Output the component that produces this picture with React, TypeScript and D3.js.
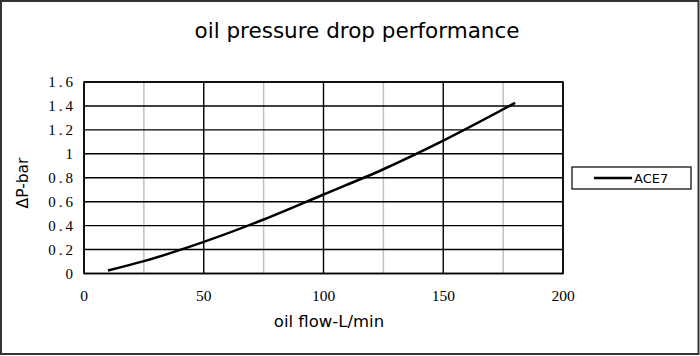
import React from "react";
import * as d3 from "d3";

const flow = [10, 25, 50, 75, 100, 125, 150, 180];
const dropBar = [0.025, 0.103, 0.264, 0.451, 0.66, 0.871, 1.11, 1.425];
const xMajorTicks = [0, 50, 100, 150, 200];
const xMinorTicks = [25, 75, 125, 175];
const yTicks = [0, 0.2, 0.4, 0.6, 0.8, 1, 1.2, 1.4, 1.6];
const seriesName = "ACE7";

const W = 700, H = 356;
const L = 84, R = 563, T = 82, B = 273.5;

export default function App() {
  const x = d3.scaleLinear().domain([0, 200]).range([L, R]);
  const y = d3.scaleLinear().domain([0, 1.6]).range([B, T]);
  const pts = flow.map((f, i) => [f, dropBar[i]] as [number, number]);
  const line = d3.line<[number, number]>().x(d => x(d[0])).y(d => y(d[1])).curve(d3.curveMonotoneX);
  const serif = "'Liberation Serif', 'DejaVu Serif', serif";
  const sans = "'DejaVu Sans', Verdana, sans-serif";
  return (
    <svg width={W} height={H} style={{ position: "absolute", left: 0, top: 0, background: "#fff" }}>
      <rect x={0} y={0} width={W} height={H} fill="#fff" />
      <rect x={1} y={1} width={W - 2.5} height={H - 3} fill="none" stroke="#333" strokeWidth={2} />
      <text x={357} y={38} textAnchor="middle" fontFamily={sans} fontSize={21.5} fill="#000">oil pressure drop performance</text>
      {xMinorTicks.map(t => (
        <line key={"m" + t} x1={x(t)} x2={x(t)} y1={T} y2={B} stroke="#c0c0c0" strokeWidth={1.5} />
      ))}
      {yTicks.map(t => (
        <line key={"h" + t} x1={L} x2={R} y1={y(t)} y2={y(t)} stroke="#000" strokeWidth={1.4} />
      ))}
      {xMajorTicks.map(t => (
        <line key={"v" + t} x1={x(t)} x2={x(t)} y1={T} y2={B} stroke="#000" strokeWidth={1.4} />
      ))}
      <rect x={L} y={T} width={R - L} height={B - T} fill="none" stroke="#000" strokeWidth={1.5} />
      {yTicks.map(t => (
        <text key={"yl" + t} x={76} y={y(t) + 5} textAnchor="end" fontFamily={serif} fontSize={15} letterSpacing={3} fill="#000">{String(t)}</text>
      ))}
      {xMajorTicks.map(t => (
        <text key={"xl" + t} x={x(t)} y={300.5} textAnchor="middle" fontFamily={serif} fontSize={15.5} fill="#000">{String(t)}</text>
      ))}
      <path d={line(pts) || ""} fill="none" stroke="#000" strokeWidth={2.5} />
      <text x={329} y={327} textAnchor="middle" fontFamily={sans} fontSize={16.5} fill="#000">oil flow-L/min</text>
      <text transform={`translate(28,183) rotate(-90)`} textAnchor="middle" fontFamily={sans} fontSize={15.5} fill="#000">ΔP-bar</text>
      <rect x={572} y={167} width={119} height={22} fill="#fff" stroke="#000" strokeWidth={1.2} />
      <line x1={594} x2={632} y1={178} y2={178} stroke="#000" strokeWidth={2.5} />
      <text x={634} y={183} fontFamily={sans} fontSize={13} fill="#000">{seriesName}</text>
    </svg>
  );
}
